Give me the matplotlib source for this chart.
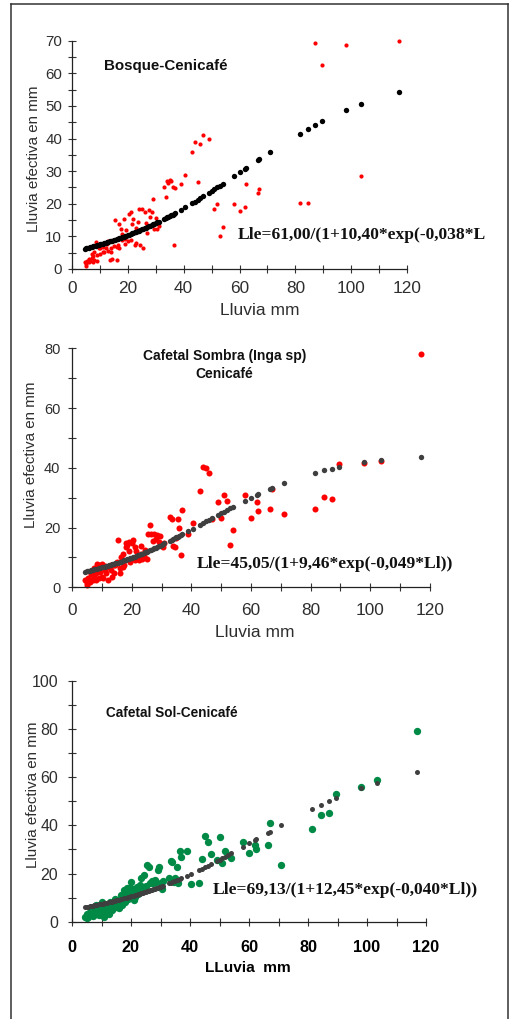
import matplotlib
matplotlib.use("Agg")
import matplotlib.pyplot as plt
from matplotlib.lines import Line2D
from matplotlib.ticker import MultipleLocator
import matplotlib.font_manager as fm

# ---------------- data ----------------
# rainfall events (Lluvia, mm) - dense part and tail
lluvia_dense = [4.5, 5, 5, 5.5, 6, 6, 6.5, 7, 7, 7.5, 7.5, 8, 8, 8.5, 9, 9, 9.5, 10, 10, 10.5,
                11, 11, 11.5, 12, 12.5, 13, 13, 13.5, 14, 14, 14.5, 15, 15.5, 16, 16, 16.5, 17, 17,
                17.5, 18, 18, 18.5, 19, 19, 19.5, 20, 20.5, 21, 21, 21.5, 22, 22.5, 23, 23, 23.5,
                24, 24.5, 25, 25.5, 26, 26.5, 27, 27.5, 28, 28.5, 29, 29.5, 30, 30.5, 31]
lluvia_tail = [33, 33.5, 34, 34.5, 35, 35.5, 36, 36.5, 37, 39, 40.5, 43, 44, 45, 46, 47, 49, 50,
               51, 52, 53, 54, 58, 60, 62, 62.5, 66.5, 67, 71, 81.5, 84.5, 87, 89.5, 98, 103.5, 117]

# observed effective rainfall - Bosque
obs_bosque = [2.0, 0.8, 1.5, 2.3, 2.0, 3.0, 2.5, 4.5, 3.3, 2.2, 4.0, 5.3, 2.8, 8.3, 4.3, 2.5, 6.5, 6.3, 4.5, 7.5,
              5.3, 6.8, 5.3, 6.3, 7.8, 5.5, 8.5, 2.7, 5.3, 6.3, 3.0, 7.0, 15.0, 6.8, 2.8, 7.3, 13.8, 6.5,
              12.3, 10.8, 8.8, 15.2, 9.3, 7.8, 12.0, 8.5, 17.0, 17.5, 9.0, 13.8, 15.4, 7.3, 8.0, 12.5, 14.5,
              18.5, 7.3, 18.3, 6.5, 17.5, 14.0, 11.0, 18.0, 15.8, 17.5, 21.5, 12.3, 15.5, 12.2, 13.2,
              25.2, 22.2, 27.0, 26.5, 27.2, 27.0, 25.0, 7.3, 24.8, 26.0, 28.8, 35.8, 39.0, 26.8, 38.2, 41.1,
              39.9, 24.0, 18.3, 19.8, 10.2, 12.8, 19.8, 17.8, 18.9, 26.0, 23.4, 24.6, 35.8, 20.3, 20.3,
              69.3, 62.6, 68.8, 28.4, 70.0]
# observed effective rainfall - Cafetal Sombra
obs_sombra = [2.4, 1.4, 0.8, 3.0, 1.9, 2.5, 4.5, 2.4, 5.5, 3.5, 6.5, 2.5, 4.8, 7.9, 7.5, 3.0, 5.0, 3.5, 7.9, 3.0,
              5.8, 7.2, 4.7, 2.3, 6.9, 5.8, 7.3, 3.5, 4.8, 7.5, 7.5, 8.6, 15.8, 6.5, 4.8, 10.2, 11.3, 6.9,
              7.5, 14.7, 13.6, 14.2, 12.0, 15.3, 8.5, 14.7, 15.8, 13.6, 9.2, 12.0, 10.2, 9.1, 11.3, 13.8, 9.6,
              10.5, 12.5, 9.5, 18.0, 20.8, 18.0, 15.5, 18.0, 16.2, 17.5, 15.3, 17.2, 14.5, 13.6, 14.8,
              23.5, 22.7, 13.9, 13.4, 16.6, 22.9, 19.7, 10.8, 25.9, 17.9, 21.4, 32.1, 40.2, 40.0, 38.3, 22.8,
              28.6, 23.3, 30.8, 29.0, 14.3, 19.2, 30.8, 23.2, 28.4, 25.4, 26.3, 33.0, 24.5, 26.2, 30.3,
              29.4, 41.2, 41.5, 42.3, 78.0]
# observed effective rainfall - Cafetal Sol
obs_sol = [2.1, 1.4, 3.0, 2.0, 2.8, 4.0, 4.2, 4.9, 2.5, 3.5, 5.5, 7.0, 3.0, 5.0, 2.8, 4.2, 6.0, 4.5, 8.3, 5.5,
           2.1, 7.5, 4.2, 6.2, 3.0, 6.2, 8.0, 4.9, 7.0, 5.5, 9.5, 6.0, 7.5, 9.0, 5.5, 11.1, 7.0, 10.0,
           13.2, 8.0, 12.0, 13.9, 9.5, 11.5, 13.9, 16.6, 12.0, 9.0, 13.5, 10.4, 14.6, 11.5, 15.2, 12.5, 18.0,
           13.5, 19.4, 15.0, 23.5, 22.8, 16.0, 17.0, 15.9, 17.3, 16.5, 21.4, 22.8, 16.2, 13.5, 16.8,
           18.0, 25.1, 24.9, 16.5, 18.0, 22.5, 15.9, 29.2, 27.0, 29.2, 15.5, 16.1, 26.0, 35.7, 33.1, 28.1,
           25.5, 35.1, 24.2, 29.5, 27.5, 26.6, 33.1, 28.6, 31.8, 30.3, 32.0, 40.8, 23.7, 38.6, 44.1,
           45.1, 52.9, 55.8, 59.0, 79.0]

# fitted effective rainfall (one point per distinct rainfall value)
lluvia_fit = [4.5, 5, 5.5, 6, 6.5, 7, 7.5, 8, 8.5, 9, 9.5, 10, 10.5, 11, 11.5, 12, 12.5, 13, 13.5,
              14, 14.5, 15, 15.5, 16, 16.5, 17, 17.5, 18, 18.5, 19, 19.5, 20, 20.5, 21, 21.5, 22,
              22.5, 23, 23.5, 24, 24.5, 25, 25.5, 26, 26.5, 27, 27.5, 28, 28.5, 29, 29.5, 30, 30.5, 31,
              33, 33.5, 34, 34.5, 35, 35.5, 36, 36.5, 37, 39, 40.5, 43, 44, 45, 46, 47, 49, 50,
              51, 52, 53, 54, 58, 60, 62, 62.5, 66.5, 67, 71, 81.5, 84.5, 87, 89.5, 98, 103.5, 117]
fit_bosque = [6.24, 6.35, 6.46, 6.57, 6.69, 6.80, 6.92, 7.04, 7.15, 7.27, 7.39, 7.52, 7.64, 7.77, 7.90,
              8.03, 8.17, 8.30, 8.44, 8.58, 8.72, 8.86, 9.01, 9.16, 9.31, 9.46, 9.61, 9.76, 9.92, 10.08,
              10.24, 10.40, 10.57, 10.74, 10.91, 11.07, 11.25, 11.42, 11.60, 11.78, 11.96, 12.15, 12.33,
              12.52, 12.71, 12.90, 13.09, 13.29, 13.49, 13.70, 13.90, 14.10, 14.31, 14.52,
              15.38, 15.60, 15.81, 16.04, 16.27, 16.49, 16.71, 16.94, 17.18, 18.15, 18.88, 20.13, 20.68,
              21.18, 21.71, 22.26, 23.28, 23.83, 24.40, 25.00, 25.52, 26.07, 28.37, 29.61, 30.72, 30.90,
              33.32, 33.61, 35.88, 41.50, 42.99, 44.17, 45.29, 48.76, 50.66, 54.37]
fit_sombra = [5.24, 5.36, 5.48, 5.60, 5.72, 5.84, 5.97, 6.10, 6.22, 6.36, 6.49, 6.63, 6.77, 6.91, 7.06,
              7.21, 7.35, 7.51, 7.66, 7.82, 7.97, 8.13, 8.30, 8.47, 8.63, 8.81, 8.99, 9.16, 9.35, 9.52,
              9.71, 9.90, 10.10, 10.29, 10.48, 10.68, 10.88, 11.09, 11.29, 11.49, 11.70, 11.92, 12.14,
              12.35, 12.58, 12.80, 13.02, 13.25, 13.49, 13.73, 13.96, 14.18, 14.43, 14.67,
              15.64, 15.88, 16.15, 16.40, 16.68, 16.93, 17.19, 17.46, 17.73, 18.77, 19.59, 20.95, 21.45,
              22.08, 22.60, 23.15, 24.26, 24.81, 25.35, 25.89, 26.42, 26.96, 29.05, 30.03, 31.00, 31.22,
              33.05, 33.25, 34.87, 38.37, 39.17, 39.76, 40.30, 41.80, 42.52, 43.71]
fit_sol = [6.06, 6.18, 6.29, 6.40, 6.52, 6.64, 6.76, 6.89, 7.01, 7.14, 7.27, 7.40, 7.53, 7.66, 7.80,
           7.94, 8.08, 8.23, 8.37, 8.52, 8.67, 8.83, 8.98, 9.14, 9.30, 9.46, 9.63, 9.79, 9.96, 10.14,
           10.31, 10.49, 10.67, 10.85, 11.03, 11.22, 11.41, 11.60, 11.80, 11.98, 12.19, 12.39, 12.59,
           12.80, 13.02, 13.22, 13.45, 13.66, 13.88, 14.11, 14.33, 14.56, 14.79, 15.02,
           15.97, 16.22, 16.46, 16.73, 16.98, 17.24, 17.50, 17.77, 18.05, 19.10, 19.98, 21.40, 22.02,
           22.59, 23.20, 23.84, 25.14, 25.79, 26.39, 27.00, 27.76, 28.33, 31.14, 32.46, 33.89, 34.19,
           36.97, 37.29, 40.03, 46.77, 48.55, 49.99, 51.32, 55.44, 57.70, 61.97]

titles = ["Bosque-Cenicafé", "Cafetal Sombra (Inga sp)\nCenicafé", "Cafetal Sol-Cenicafé"]
equations = ["Lle=61,00/(1+10,40*exp(-0,038*L",
             "Lle=45,05/(1+9,46*exp(-0,049*Ll))",
             "Lle=69,13/(1+12,45*exp(-0,040*Ll))"]
xlabels = ["Lluvia mm", "Lluvia mm", "LLuvia  mm"]
ylabel = "Lluvia efectiva en mm"

# ---------------- figure ----------------
W, H = 509, 1019
fig = plt.figure(figsize=(W / 100, H / 100), dpi=100)
fig.patch.set_facecolor("white")

def fx(px):
    return px / W

def fy(py):
    return 1 - py / H

names = {f.name for f in fm.fontManager.ttflist}
SANS = "Liberation Sans"
NARROW = "Liberation Sans Narrow" if "Liberation Sans Narrow" in names else "Liberation Sans"
SERIF = "Liberation Serif"
TXT = "#2e2e2e"

lluvia_obs = lluvia_dense + lluvia_tail

cfg = [
    dict(box=(72, 407, 40.7, 269), ymax=70, ymaj=10, ymin=5, obs=obs_bosque, fit=fit_bosque,
         ocol="#ff0000", fcol="#000000", os=9, fs=15,
         xt_size=12.4, xt_bold=False, xt_pad=5.3, yt_size=10.8, yt_font=SANS, yt_pad=4.1,
         title_xy=(104, 70), title_ha="left", title_size=10.9,
         eq_xy=(238, 239.3), xl_xy=(260, 315), xl_bold=False, xl_size=12.5,
         yl_xy=(38.3, 159)),
    dict(box=(72, 430, 348.3, 587.3), ymax=80, ymaj=20, ymin=10, obs=obs_sombra, fit=fit_sombra,
         ocol="#ff0000", fcol="#3f3f3f", os=19, fs=15,
         xt_size=12.4, xt_bold=False, xt_pad=8.3, yt_size=10.5, yt_font=SANS, yt_pad=5.3,
         title_xy=(224.7, 378.3), title_ha="center", title_size=10,
         eq_xy=(197, 568.3), xl_xy=(255, 636.7), xl_bold=False, xl_size=12.5,
         yl_xy=(35, 455)),
    dict(box=(72, 426, 680.7, 921.7), ymax=100, ymaj=20, ymin=10, obs=obs_sol, fit=fit_sol,
         ocol="#008a46", fcol="#3f3f3f", os=28, fs=13,
         xt_size=11.7, xt_bold=True, xt_pad=10, yt_size=11.5, yt_font=NARROW, yt_pad=7,
         title_xy=(106, 717.3), title_ha="left", title_size=9.8,
         eq_xy=(213, 894), xl_xy=(248, 971.7), xl_bold=True, xl_size=11.1,
         yl_xy=(36.7, 795)),
]

for i, c in enumerate(cfg):
    x0, x1, ytop, ybot = c["box"]
    ax = fig.add_axes([fx(x0), fy(ybot), (x1 - x0) / W, (ybot - ytop) / H])
    ax.set_xlim(0, 120)
    ax.set_ylim(0, c["ymax"])
    ax.scatter(lluvia_obs, c["obs"], s=c["os"], color=c["ocol"], linewidths=0, zorder=2, clip_on=False)
    ax.scatter(lluvia_fit, c["fit"], s=c["fs"], color=c["fcol"], linewidths=0, zorder=3, clip_on=False)
    for side in ("top", "right"):
        ax.spines[side].set_visible(False)
    for side in ("left", "bottom"):
        ax.spines[side].set_color("#222222")
        ax.spines[side].set_linewidth(0.9)
    ax.xaxis.set_major_locator(MultipleLocator(20))
    ax.xaxis.set_minor_locator(MultipleLocator(10))
    ax.yaxis.set_major_locator(MultipleLocator(c["ymaj"]))
    ax.yaxis.set_minor_locator(MultipleLocator(c["ymin"]))
    ax.tick_params(which="both", direction="inout", length=6, width=0.8, color="#333333")
    ax.tick_params(axis="x", which="major", pad=c["xt_pad"], labelsize=c["xt_size"], labelcolor=TXT)
    ax.tick_params(axis="y", which="major", pad=c["yt_pad"], labelsize=c["yt_size"], labelcolor=TXT)
    for lab in ax.get_xticklabels():
        lab.set_family(SANS)
        if c["xt_bold"]:
            lab.set_fontweight("bold")
            lab.set_color("#000000")
    for lab in ax.get_yticklabels():
        lab.set_family(c["yt_font"])
    ax.patch.set_alpha(0)

    tx, ty = c["title_xy"]
    fig.text(fx(tx), fy(ty), titles[i], ha=c["title_ha"], va="baseline", family=SANS,
             fontweight="bold", fontsize=c["title_size"], color="#111111",
             multialignment="center", linespacing=1.35)
    ex, ey = c["eq_xy"]
    fig.text(fx(ex), fy(ey), equations[i], ha="left", va="baseline", family=SERIF,
             fontweight="bold", fontsize=12.6, color="#111111")
    lx, ly = c["xl_xy"]
    fig.text(fx(lx), fy(ly), xlabels[i], ha="center", va="baseline", family=SANS,
             fontweight="bold" if c["xl_bold"] else "normal", fontsize=c["xl_size"],
             color="#000000" if c["xl_bold"] else TXT)
    yx, yy = c["yl_xy"]
    fig.text(fx(yx), fy(yy), ylabel, ha="center", va="baseline", rotation=90,
             rotation_mode="anchor", family=NARROW, fontsize=12.9 if NARROW != SANS else 10.9,
             color=TXT)

# outer frame (open at the bottom)
fc = "#333333"
fig.add_artist(Line2D([fx(11), fx(11)], [fy(1019), fy(3.5)], color=fc, lw=1.1))
fig.add_artist(Line2D([fx(11), fx(507.5)], [fy(3.5), fy(3.5)], color=fc, lw=1.1))
fig.add_artist(Line2D([fx(507.5), fx(507.5)], [fy(3.5), fy(1019)], color=fc, lw=1.1))

fig.savefig("out.png", dpi=100)
